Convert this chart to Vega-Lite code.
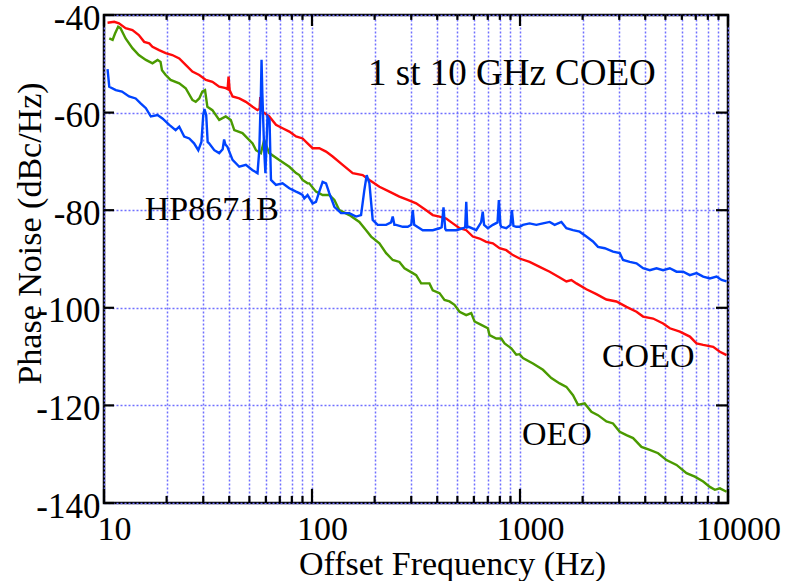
{
"$schema":"https://vega.github.io/schema/vega-lite/v6.json",
"width":624,"height":488,
"autosize":{"type":"none"},
"padding":{"left":104,"top":15,"right":74,"bottom":78},
"background":"white",
"config":{"font":"Liberation Serif","view":{"stroke":"black","strokeWidth":2.5}},
"datasets":{
"notes":[
{"t":"1 st 10 GHz COEO","f":186,"v":-54.3},
{"t":"HP8671B","f":15.7,"v":-82.0},
{"t":"COEO","f":2477,"v":-112.1},
{"t":"OEO","f":1022,"v":-128.1}
],
"xt":[
{"f":10,"k":"M"},{"f":20,"k":"m"},{"f":30,"k":"m"},{"f":40,"k":"m"},{"f":50,"k":"m"},{"f":60,"k":"m"},{"f":70,"k":"m"},{"f":80,"k":"m"},{"f":90,"k":"m"},
{"f":100,"k":"M"},{"f":200,"k":"m"},{"f":300,"k":"m"},{"f":400,"k":"m"},{"f":500,"k":"m"},{"f":600,"k":"m"},{"f":700,"k":"m"},{"f":800,"k":"m"},{"f":900,"k":"m"},
{"f":1000,"k":"M"},{"f":2000,"k":"m"},{"f":3000,"k":"m"},{"f":4000,"k":"m"},{"f":5000,"k":"m"},{"f":6000,"k":"m"},{"f":7000,"k":"m"},{"f":8000,"k":"m"},{"f":9000,"k":"m"},
{"f":10000,"k":"M"}
],
"yt":[{"v":-140},{"v":-120},{"v":-100},{"v":-80},{"v":-60},{"v":-40}],
"lines":[
{"s":"OEO","f":10.6,"v":-44.8},{"s":"OEO","f":11.0,"v":-45.1},{"s":"OEO","f":11.3,"v":-43.8},{"s":"OEO","f":11.7,"v":-42.4},{"s":"OEO","f":12.0,"v":-42.7},{"s":"OEO","f":12.7,"v":-44.8},{"s":"OEO","f":13.7,"v":-46.8},{"s":"OEO","f":14.7,"v":-48.2},{"s":"OEO","f":15.9,"v":-49.2},{"s":"OEO","f":17.1,"v":-49.9},{"s":"OEO","f":18.1,"v":-49.2},{"s":"OEO","f":18.7,"v":-49.6},{"s":"OEO","f":19.0,"v":-51.3},{"s":"OEO","f":19.8,"v":-52.3},{"s":"OEO","f":20.9,"v":-53.3},{"s":"OEO","f":23.0,"v":-54.0},{"s":"OEO","f":24.7,"v":-55.0},{"s":"OEO","f":26.6,"v":-57.4},{"s":"OEO","f":27.6,"v":-57.8},{"s":"OEO","f":28.7,"v":-57.1},{"s":"OEO","f":29.7,"v":-55.7},{"s":"OEO","f":30.6,"v":-55.4},{"s":"OEO","f":31.4,"v":-58.8},{"s":"OEO","f":33.2,"v":-59.5},{"s":"OEO","f":35.8,"v":-61.5},{"s":"OEO","f":38.5,"v":-60.8},{"s":"OEO","f":40.7,"v":-61.5},{"s":"OEO","f":42.3,"v":-63.6},{"s":"OEO","f":46.3,"v":-64.2},{"s":"OEO","f":51.8,"v":-66.3},{"s":"OEO","f":53.8,"v":-67.7},{"s":"OEO","f":56.8,"v":-68.3},{"s":"OEO","f":58.9,"v":-65.6},{"s":"OEO","f":62.3,"v":-68.3},{"s":"OEO","f":69.6,"v":-69.7},{"s":"OEO","f":77.8,"v":-71.1},{"s":"OEO","f":83.8,"v":-72.4},{"s":"OEO","f":86.9,"v":-72.8},{"s":"OEO","f":90.1,"v":-73.8},{"s":"OEO","f":95.2,"v":-74.5},{"s":"OEO","f":97.0,"v":-74.5},{"s":"OEO","f":104.5,"v":-76.2},{"s":"OEO","f":112.5,"v":-76.9},{"s":"OEO","f":121.1,"v":-76.9},{"s":"OEO","f":128.1,"v":-77.9},{"s":"OEO","f":135.3,"v":-80.0},{"s":"OEO","f":151.2,"v":-81.0},{"s":"OEO","f":168.9,"v":-82.4},{"s":"OEO","f":182.0,"v":-84.1},{"s":"OEO","f":192.4,"v":-85.4},{"s":"OEO","f":210.9,"v":-86.8},{"s":"OEO","f":227.2,"v":-88.8},{"s":"OEO","f":244.4,"v":-90.2},{"s":"OEO","f":263.2,"v":-90.6},{"s":"OEO","f":278.3,"v":-91.9},{"s":"OEO","f":305.1,"v":-92.9},{"s":"OEO","f":316.8,"v":-93.3},{"s":"OEO","f":334.8,"v":-95.0},{"s":"OEO","f":367.0,"v":-95.0},{"s":"OEO","f":380.7,"v":-96.4},{"s":"OEO","f":410.3,"v":-97.0},{"s":"OEO","f":433.5,"v":-98.4},{"s":"OEO","f":458.1,"v":-98.7},{"s":"OEO","f":484.2,"v":-99.4},{"s":"OEO","f":512.1,"v":-100.8},{"s":"OEO","f":551.6,"v":-101.5},{"s":"OEO","f":582.8,"v":-101.1},{"s":"OEO","f":604.5,"v":-102.8},{"s":"OEO","f":651.2,"v":-103.5},{"s":"OEO","f":700.6,"v":-104.2},{"s":"OEO","f":713.9,"v":-105.6},{"s":"OEO","f":768.9,"v":-106.3},{"s":"OEO","f":812.8,"v":-106.3},{"s":"OEO","f":843.0,"v":-107.3},{"s":"OEO","f":908.0,"v":-108.3},{"s":"OEO","f":959.9,"v":-109.6},{"s":"OEO","f":995.6,"v":-109.5},{"s":"OEO","f":1033,"v":-110.3},{"s":"OEO","f":1154,"v":-111.4},{"s":"OEO","f":1289,"v":-112.7},{"s":"OEO","f":1415,"v":-114.4},{"s":"OEO","f":1551,"v":-115.5},{"s":"OEO","f":1671,"v":-116.2},{"s":"OEO","f":1798,"v":-117.9},{"s":"OEO","f":1900,"v":-119.9},{"s":"OEO","f":2046,"v":-119.6},{"s":"OEO","f":2204,"v":-121.3},{"s":"OEO","f":2371,"v":-122.0},{"s":"OEO","f":2603,"v":-123.3},{"s":"OEO","f":2801,"v":-123.7},{"s":"OEO","f":3017,"v":-125.4},{"s":"OEO","f":3249,"v":-126.1},{"s":"OEO","f":3497,"v":-126.7},{"s":"OEO","f":3837,"v":-128.5},{"s":"OEO","f":4207,"v":-129.1},{"s":"OEO","f":4613,"v":-129.8},{"s":"OEO","f":5062,"v":-131.2},{"s":"OEO","f":5656,"v":-132.2},{"s":"OEO","f":6319,"v":-133.9},{"s":"OEO","f":6928,"v":-134.6},{"s":"OEO","f":7597,"v":-135.6},{"s":"OEO","f":8181,"v":-136.7},{"s":"OEO","f":8648,"v":-137.3},{"s":"OEO","f":9142,"v":-137.0},{"s":"OEO","f":9845,"v":-137.7},
{"s":"COEO","f":10.4,"v":-41.6},{"s":"COEO","f":11.2,"v":-41.4},{"s":"COEO","f":11.8,"v":-41.7},{"s":"COEO","f":12.7,"v":-42.7},{"s":"COEO","f":13.7,"v":-43.1},{"s":"COEO","f":14.7,"v":-44.1},{"s":"COEO","f":15.6,"v":-45.5},{"s":"COEO","f":16.5,"v":-45.8},{"s":"COEO","f":17.1,"v":-46.5},{"s":"COEO","f":18.4,"v":-47.2},{"s":"COEO","f":19.8,"v":-47.8},{"s":"COEO","f":21.3,"v":-48.2},{"s":"COEO","f":23.0,"v":-48.9},{"s":"COEO","f":24.7,"v":-50.2},{"s":"COEO","f":26.6,"v":-51.6},{"s":"COEO","f":28.7,"v":-52.3},{"s":"COEO","f":30.9,"v":-53.3},{"s":"COEO","f":33.2,"v":-53.7},{"s":"COEO","f":35.8,"v":-54.7},{"s":"COEO","f":38.5,"v":-55.0},{"s":"COEO","f":39.3,"v":-55.2},{"s":"COEO","f":39.7,"v":-52.6},{"s":"COEO","f":40.2,"v":-55.4},{"s":"COEO","f":41.5,"v":-56.7},{"s":"COEO","f":44.7,"v":-57.1},{"s":"COEO","f":48.1,"v":-57.8},{"s":"COEO","f":51.8,"v":-58.8},{"s":"COEO","f":54.7,"v":-59.5},{"s":"COEO","f":56.0,"v":-59.2},{"s":"COEO","f":56.4,"v":-56.8},{"s":"COEO","f":57.0,"v":-59.0},{"s":"COEO","f":57.8,"v":-59.8},{"s":"COEO","f":62.3,"v":-60.8},{"s":"COEO","f":67.1,"v":-62.5},{"s":"COEO","f":72.2,"v":-63.2},{"s":"COEO","f":77.8,"v":-63.9},{"s":"COEO","f":83.8,"v":-64.9},{"s":"COEO","f":90.1,"v":-65.3},{"s":"COEO","f":95.2,"v":-66.3},{"s":"COEO","f":100.7,"v":-67.3},{"s":"COEO","f":108.4,"v":-67.3},{"s":"COEO","f":116.8,"v":-68.0},{"s":"COEO","f":125.7,"v":-69.0},{"s":"COEO","f":140.4,"v":-70.7},{"s":"COEO","f":156.9,"v":-72.4},{"s":"COEO","f":175.2,"v":-72.8},{"s":"COEO","f":188.8,"v":-73.8},{"s":"COEO","f":210.9,"v":-75.2},{"s":"COEO","f":235.6,"v":-76.2},{"s":"COEO","f":263.2,"v":-77.2},{"s":"COEO","f":288.6,"v":-77.9},{"s":"COEO","f":316.8,"v":-78.6},{"s":"COEO","f":353.9,"v":-80.0},{"s":"COEO","f":380.7,"v":-81.0},{"s":"COEO","f":410.3,"v":-81.3},{"s":"COEO","f":441.7,"v":-81.7},{"s":"COEO","f":475.2,"v":-82.7},{"s":"COEO","f":512.1,"v":-83.7},{"s":"COEO","f":551.6,"v":-84.1},{"s":"COEO","f":593.2,"v":-85.4},{"s":"COEO","f":639.0,"v":-85.8},{"s":"COEO","f":688.2,"v":-86.5},{"s":"COEO","f":740.5,"v":-86.8},{"s":"COEO","f":797.5,"v":-87.8},{"s":"COEO","f":859.0,"v":-88.2},{"s":"COEO","f":924.3,"v":-89.2},{"s":"COEO","f":995.6,"v":-89.9},{"s":"COEO","f":1112,"v":-90.6},{"s":"COEO","f":1243,"v":-91.6},{"s":"COEO","f":1389,"v":-92.6},{"s":"COEO","f":1551,"v":-93.8},{"s":"COEO","f":1671,"v":-94.6},{"s":"COEO","f":1766,"v":-94.3},{"s":"COEO","f":1867,"v":-95.0},{"s":"COEO","f":2085,"v":-96.2},{"s":"COEO","f":2330,"v":-97.2},{"s":"COEO","f":2603,"v":-98.3},{"s":"COEO","f":2908,"v":-98.7},{"s":"COEO","f":3249,"v":-99.8},{"s":"COEO","f":3631,"v":-100.8},{"s":"COEO","f":3906,"v":-101.8},{"s":"COEO","f":4364,"v":-102.2},{"s":"COEO","f":4875,"v":-103.2},{"s":"COEO","f":5251,"v":-104.2},{"s":"COEO","f":5867,"v":-104.9},{"s":"COEO","f":6555,"v":-105.9},{"s":"COEO","f":7060,"v":-107.3},{"s":"COEO","f":7597,"v":-107.6},{"s":"COEO","f":8487,"v":-108.0},{"s":"COEO","f":9142,"v":-109.0},{"s":"COEO","f":9845,"v":-109.7},
{"s":"HP8671B","f":10.4,"v":-51.1},{"s":"HP8671B","f":10.6,"v":-54.7},{"s":"HP8671B","f":11.4,"v":-55.4},{"s":"HP8671B","f":12.2,"v":-55.7},{"s":"HP8671B","f":13.2,"v":-56.7},{"s":"HP8671B","f":14.2,"v":-57.1},{"s":"HP8671B","f":15.0,"v":-58.1},{"s":"HP8671B","f":15.9,"v":-59.1},{"s":"HP8671B","f":16.8,"v":-60.8},{"s":"HP8671B","f":18.1,"v":-60.5},{"s":"HP8671B","f":19.1,"v":-61.2},{"s":"HP8671B","f":20.6,"v":-62.5},{"s":"HP8671B","f":22.1,"v":-63.6},{"s":"HP8671B","f":23.0,"v":-62.9},{"s":"HP8671B","f":24.3,"v":-64.9},{"s":"HP8671B","f":25.7,"v":-65.3},{"s":"HP8671B","f":27.1,"v":-66.3},{"s":"HP8671B","f":28.4,"v":-67.7},{"s":"HP8671B","f":29.4,"v":-66.0},{"s":"HP8671B","f":30.0,"v":-60.5},{"s":"HP8671B","f":30.4,"v":-59.3},{"s":"HP8671B","f":31.0,"v":-60.5},{"s":"HP8671B","f":31.5,"v":-66.0},{"s":"HP8671B","f":32.0,"v":-66.3},{"s":"HP8671B","f":33.9,"v":-67.7},{"s":"HP8671B","f":35.8,"v":-68.3},{"s":"HP8671B","f":37.2,"v":-67.5},{"s":"HP8671B","f":37.8,"v":-65.5},{"s":"HP8671B","f":38.3,"v":-66.5},{"s":"HP8671B","f":39.2,"v":-67.0},{"s":"HP8671B","f":41.5,"v":-69.7},{"s":"HP8671B","f":44.7,"v":-71.1},{"s":"HP8671B","f":48.1,"v":-70.7},{"s":"HP8671B","f":51.8,"v":-71.8},{"s":"HP8671B","f":54.7,"v":-72.4},{"s":"HP8671B","f":55.8,"v":-67.7},{"s":"HP8671B","f":56.8,"v":-56.0},{"s":"HP8671B","f":57.2,"v":-49.2},{"s":"HP8671B","f":57.7,"v":-56.0},{"s":"HP8671B","f":58.9,"v":-67.7},{"s":"HP8671B","f":59.7,"v":-72.4},{"s":"HP8671B","f":60.5,"v":-66.0},{"s":"HP8671B","f":61.1,"v":-60.8},{"s":"HP8671B","f":62.5,"v":-61.5},{"s":"HP8671B","f":63.0,"v":-68.0},{"s":"HP8671B","f":63.5,"v":-73.8},{"s":"HP8671B","f":67.1,"v":-74.8},{"s":"HP8671B","f":72.2,"v":-74.5},{"s":"HP8671B","f":77.8,"v":-75.5},{"s":"HP8671B","f":83.8,"v":-76.2},{"s":"HP8671B","f":86.9,"v":-76.5},{"s":"HP8671B","f":90.1,"v":-76.9},{"s":"HP8671B","f":91.8,"v":-77.6},{"s":"HP8671B","f":95.2,"v":-76.9},{"s":"HP8671B","f":100.7,"v":-78.6},{"s":"HP8671B","f":104.5,"v":-78.3},{"s":"HP8671B","f":108.4,"v":-76.2},{"s":"HP8671B","f":112.5,"v":-74.2},{"s":"HP8671B","f":116.8,"v":-74.5},{"s":"HP8671B","f":121.1,"v":-76.5},{"s":"HP8671B","f":128.1,"v":-79.3},{"s":"HP8671B","f":137.9,"v":-80.6},{"s":"HP8671B","f":151.2,"v":-80.6},{"s":"HP8671B","f":162.9,"v":-81.3},{"s":"HP8671B","f":172.1,"v":-81.0},{"s":"HP8671B","f":178.5,"v":-75.9},{"s":"HP8671B","f":183.2,"v":-72.8},{"s":"HP8671B","f":188.8,"v":-74.5},{"s":"HP8671B","f":195.8,"v":-82.0},{"s":"HP8671B","f":206.9,"v":-83.0},{"s":"HP8671B","f":227.2,"v":-83.0},{"s":"HP8671B","f":240,"v":-82.5},{"s":"HP8671B","f":244.4,"v":-81.3},{"s":"HP8671B","f":249,"v":-83.0},{"s":"HP8671B","f":253.8,"v":-83.0},{"s":"HP8671B","f":273.1,"v":-83.4},{"s":"HP8671B","f":288.6,"v":-83.4},{"s":"HP8671B","f":300,"v":-83.0},{"s":"HP8671B","f":305.1,"v":-80.0},{"s":"HP8671B","f":310,"v":-83.0},{"s":"HP8671B","f":340.8,"v":-84.1},{"s":"HP8671B","f":380.7,"v":-84.1},{"s":"HP8671B","f":410.3,"v":-83.7},{"s":"HP8671B","f":420,"v":-83.5},{"s":"HP8671B","f":428.8,"v":-79.4},{"s":"HP8671B","f":437,"v":-83.8},{"s":"HP8671B","f":441.7,"v":-84.1},{"s":"HP8671B","f":493.4,"v":-84.1},{"s":"HP8671B","f":531.2,"v":-83.7},{"s":"HP8671B","f":545,"v":-83.5},{"s":"HP8671B","f":551.6,"v":-78.3},{"s":"HP8671B","f":558,"v":-83.5},{"s":"HP8671B","f":567.5,"v":-83.4},{"s":"HP8671B","f":616.0,"v":-84.1},{"s":"HP8671B","f":639.0,"v":-83.0},{"s":"HP8671B","f":650,"v":-82.5},{"s":"HP8671B","f":662,"v":-80.3},{"s":"HP8671B","f":672,"v":-83.0},{"s":"HP8671B","f":700.6,"v":-83.7},{"s":"HP8671B","f":740.5,"v":-83.0},{"s":"HP8671B","f":780,"v":-82.5},{"s":"HP8671B","f":791.3,"v":-77.9},{"s":"HP8671B","f":805,"v":-83.0},{"s":"HP8671B","f":812.8,"v":-83.4},{"s":"HP8671B","f":859.0,"v":-83.7},{"s":"HP8671B","f":900,"v":-83.0},{"s":"HP8671B","f":914.1,"v":-80.0},{"s":"HP8671B","f":930,"v":-83.2},{"s":"HP8671B","f":959.9,"v":-83.4},{"s":"HP8671B","f":995.6,"v":-83.4},{"s":"HP8671B","f":1033,"v":-83.0},{"s":"HP8671B","f":1112,"v":-82.7},{"s":"HP8671B","f":1198,"v":-83.0},{"s":"HP8671B","f":1289,"v":-82.7},{"s":"HP8671B","f":1389,"v":-82.4},{"s":"HP8671B","f":1468,"v":-83.0},{"s":"HP8671B","f":1581,"v":-82.4},{"s":"HP8671B","f":1671,"v":-83.7},{"s":"HP8671B","f":1798,"v":-84.1},{"s":"HP8671B","f":1936,"v":-84.4},{"s":"HP8671B","f":2085,"v":-85.4},{"s":"HP8671B","f":2243,"v":-86.4},{"s":"HP8671B","f":2371,"v":-87.5},{"s":"HP8671B","f":2555,"v":-87.8},{"s":"HP8671B","f":2801,"v":-88.5},{"s":"HP8671B","f":3017,"v":-88.8},{"s":"HP8671B","f":3129,"v":-90.2},{"s":"HP8671B","f":3370,"v":-90.6},{"s":"HP8671B","f":3631,"v":-90.9},{"s":"HP8671B","f":3906,"v":-91.9},{"s":"HP8671B","f":4207,"v":-92.3},{"s":"HP8671B","f":4532,"v":-91.9},{"s":"HP8671B","f":4875,"v":-92.3},{"s":"HP8671B","f":5251,"v":-91.9},{"s":"HP8671B","f":5656,"v":-92.6},{"s":"HP8671B","f":6086,"v":-92.6},{"s":"HP8671B","f":6555,"v":-93.3},{"s":"HP8671B","f":7060,"v":-92.9},{"s":"HP8671B","f":7597,"v":-93.6},{"s":"HP8671B","f":8181,"v":-94.0},{"s":"HP8671B","f":8812,"v":-93.6},{"s":"HP8671B","f":9316,"v":-94.3},{"s":"HP8671B","f":9845,"v":-94.6}
]},
"layer":[
{"data":{"name":"lines"},
 "mark":{"type":"line","strokeWidth":2.4,"clip":true},
 "encoding":{
  "x":{"field":"f","type":"quantitative","scale":{"type":"log","domain":[10,10000]},
   "axis":{"orient":"bottom","values":[10,20,30,40,50,60,70,80,90,100,200,300,400,500,600,700,800,900,1000,2000,3000,4000,5000,6000,7000,8000,9000,10000],
    "grid":true,"gridColor":"#7070ff","gridDash":[2,2],"gridWidth":1.5,"domain":false,"ticks":false,
    "labelExpr":"(datum.value==10||datum.value==100||datum.value==1000||datum.value==10000)?(''+datum.value):''",
    "labelFontSize":34,"labelColor":"black","labelPadding":36,"labelOffset":10,"labelBaseline":"alphabetic","labelFlush":false,"labelOverlap":false,
    "title":"Offset Frequency (Hz)","titleFontSize":34,"titleFontWeight":"normal","titleColor":"black","titleX":348,"titleY":71,"titleBaseline":"alphabetic","titleAlign":"center"}},
  "y":{"field":"v","type":"quantitative","scale":{"domain":[-140,-40],"nice":false,"zero":false},
   "axis":{"orient":"left","values":[-140,-120,-100,-80,-60,-40],
    "grid":true,"gridColor":"#7070ff","gridDash":[2,2],"gridWidth":1.5,"domain":false,"ticks":false,
    "labelExpr":"''+datum.value","labelFontSize":35,"labelColor":"black","labelPadding":4,"labelOffset":3,"labelFlush":false,"labelOverlap":false,
    "title":"Phase Noise (dBc/Hz)","titleFontSize":34,"titleFontWeight":"normal","titleColor":"black","titleX":-74,"titleY":218,"titleAngle":-90,"titleAlign":"center","titleBaseline":"middle"}},
  "color":{"field":"s","type":"nominal","scale":{"domain":["OEO","COEO","HP8671B"],"range":["#4a9a00","#ff0a0a","#0044ff"]},"legend":null}
 }},
{"data":{"name":"notes"},
 "mark":{"type":"text","align":"left","baseline":"alphabetic","color":"black"},
 "encoding":{
  "x":{"field":"f","type":"quantitative","axis":null},
  "y":{"field":"v","type":"quantitative","axis":null},
  "text":{"field":"t"},
  "size":{"condition":{"test":"datum.t=='1 st 10 GHz COEO'","value":37},"value":34}
 }},
{"data":{"name":"xt"},"transform":[{"filter":"datum.k=='M'"}],
 "mark":{"type":"rule","color":"#000000","strokeWidth":2.2,"opacity":1},
 "encoding":{"x":{"field":"f","type":"quantitative","axis":null},"y":{"datum":-140,"type":"quantitative","axis":null},"y2":{"datum":-137.1}}},
{"data":{"name":"xt"},"transform":[{"filter":"datum.k=='m'"}],
 "mark":{"type":"rule","color":"#000000","strokeWidth":2.2,"opacity":1},
 "encoding":{"x":{"field":"f","type":"quantitative","axis":null},"y":{"datum":-140,"type":"quantitative","axis":null},"y2":{"datum":-138.55}}},
{"data":{"name":"xt"},"transform":[{"filter":"datum.k=='M'"}],
 "mark":{"type":"rule","color":"#000000","strokeWidth":2.2,"opacity":1},
 "encoding":{"x":{"field":"f","type":"quantitative","axis":null},"y":{"datum":-40,"type":"quantitative","axis":null},"y2":{"datum":-42.25}}},
{"data":{"name":"xt"},"transform":[{"filter":"datum.k=='m'"}],
 "mark":{"type":"rule","color":"#000000","strokeWidth":2.2,"opacity":1},
 "encoding":{"x":{"field":"f","type":"quantitative","axis":null},"y":{"datum":-40,"type":"quantitative","axis":null},"y2":{"datum":-41.0}}},
{"data":{"name":"yt"},
 "mark":{"type":"rule","color":"#000000","strokeWidth":2.2,"opacity":1},
 "encoding":{"y":{"field":"v","type":"quantitative","axis":null},"x":{"datum":10,"type":"quantitative","axis":null},"x2":{"datum":11.17}}},
{"data":{"name":"yt"},
 "mark":{"type":"rule","color":"#000000","strokeWidth":2.2,"opacity":1},
 "encoding":{"y":{"field":"v","type":"quantitative","axis":null},"x":{"datum":10000,"type":"quantitative","axis":null},"x2":{"datum":8757}}}
],
"resolve":{"axis":{"x":"independent","y":"independent"}}
}
